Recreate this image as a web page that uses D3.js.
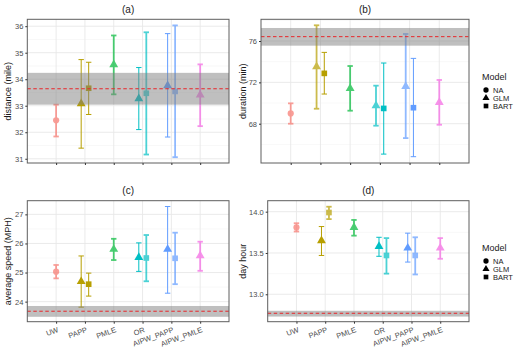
<!DOCTYPE html>
<html>
<head>
<meta charset="utf-8">
<script src="https://cdn.jsdelivr.net/npm/d3@7"></script>
<style>
  body { margin: 0; background: #fff; }
  text { font-family: "Liberation Sans", Arial, sans-serif; }
</style>
</head>
<body>
<script>
var width = 528, height = 363;

// categories / models
const categories = ["UW", "PAPP", "PMLE", "OR", "AIPW_PAPP", "AIPW_PMLE"];
const catColors = ["#F8766D", "#B79F00", "#00BA38", "#00BFC4", "#619CFF", "#F564E3"];
const modelLevels = ["NA", "GLM", "BART"];

// one entry per estimate
const itemCat = [0, 1, 1, 2, 3, 3, 4, 4, 5];
const itemModel = ["NA", "GLM", "BART", "GLM", "GLM", "BART", "GLM", "BART", "GLM"];

// (a) distance
const distEst = [32.45, 33.08, 33.66, 34.55, 33.27, 33.47, 33.76, 33.54, 33.41];
const distLow = [31.84, 31.40, 32.67, 33.43, 32.10, 31.16, 31.82, 31.06, 32.23];
const distUpp = [33.04, 34.74, 34.64, 35.65, 34.44, 35.77, 35.72, 36.03, 34.56];
const distFaded = [1, 0, 0, 1, 0, 1, 0, 1, 1];
const distRef = 33.64, distBand = [33.04, 34.24];

// (b) duration
const durEst = [69.0, 73.52, 72.87, 71.42, 69.74, 69.48, 71.61, 69.55, 70.06];
const durLow = [68.0, 69.45, 70.87, 69.26, 67.81, 65.06, 66.61, 64.81, 67.9];
const durUpp = [69.97, 77.52, 74.9, 73.58, 71.68, 73.87, 76.68, 74.32, 72.23];
const durFaded = [1, 1, 0, 1, 1, 0, 1, 0, 1];
const durRef = 76.42, durBand = [75.55, 77.26];

// (c) average speed
const spdEst = [25.03, 24.69, 24.60, 25.80, 25.52, 25.50, 25.80, 25.49, 25.58];
const spdLow = [24.80, 23.81, 24.19, 25.43, 25.04, 24.70, 24.29, 24.60, 25.06];
const spdUpp = [25.26, 25.57, 24.98, 26.16, 26.02, 26.29, 27.27, 26.37, 26.06];
const spdFaded = [1, 0, 0, 1, 0, 1, 0, 1, 1];
const spdRef = 23.67, spdBand = [23.48, 23.85];

// (d) day hour
const hourEst = [13.81, 13.65, 13.99, 13.81, 13.58, 13.47, 13.56, 13.47, 13.56];
const hourLow = [13.76, 13.47, 13.91, 13.71, 13.46, 13.25, 13.39, 13.24, 13.43];
const hourUpp = [13.86, 13.82, 14.06, 13.90, 13.69, 13.68, 13.74, 13.69, 13.68];
const hourFaded = [1, 0, 1, 1, 0, 1, 0, 1, 1];
const hourRef = 12.77, hourBand = [12.73, 12.80];

const panels = [
  { title: "(a)", ylab: "distance (mile)", est: distEst, low: distLow, upp: distUpp, faded: distFaded,
    ref: distRef, band: distBand, ydom: [30.84, 36.26], major: [31, 32, 33, 34, 35, 36], fmt: d3.format("d"),
    box: [27.3, 19.3, 229, 163], showX: false, ytx: 7.5 },
  { title: "(b)", ylab: "duration (min)", est: durEst, low: durLow, upp: durUpp, faded: durFaded,
    ref: durRef, band: durBand, ydom: [64.2, 78.1], major: [68, 72, 76], fmt: d3.format("d"),
    box: [261, 19.3, 469, 163], showX: false, ytx: 242.5 },
  { title: "(c)", ylab: "average speed (MPH)", est: spdEst, low: spdLow, upp: spdUpp, faded: spdFaded,
    ref: spdRef, band: spdBand, ydom: [23.31, 27.47], major: [24, 25, 26, 27], fmt: d3.format("d"),
    box: [27.3, 200.7, 229, 321.7], showX: true, ytx: 7.5 },
  { title: "(d)", ylab: "day hour", est: hourEst, low: hourLow, upp: hourUpp, faded: hourFaded,
    ref: hourRef, band: hourBand, ydom: [12.668, 14.133], major: [13.0, 13.5, 14.0], fmt: d3.format(".1f"),
    box: [267.7, 200.7, 469, 321.7], showX: true, ytx: 242.5 }
];

var svg = d3.select("body").append("svg")
  .attr("width", width).attr("height", height);

const symbolFor = m => m == "NA" ? d3.symbolCircle : m == "GLM" ? d3.symbolTriangle : d3.symbolSquare;
const symbolSize = m => m == "NA" ? 30 : m == "GLM" ? 34 : 32;

// dodge: only when a category holds two estimates
function dodge(i) {
  var n = itemCat.filter(c => c == itemCat[i]).length;
  if (n < 2) return 0;
  return itemModel[i] == "GLM" ? -0.13 : 0.13;
}

panels.forEach(p => {
  var [x0, y0, x1, y1] = p.box;
  var x = d3.scaleLinear().domain([0, 7]).range([x0, x1]);
  var y = d3.scaleLinear().domain(p.ydom).range([y1, y0]);
  var g = svg.append("g");

  // minor grid: midpoints between major ticks, plus outside ones
  var step = p.major[1] - p.major[0];
  var minor = [];
  for (var v = p.major[0] - step / 2; v <= p.ydom[1]; v += step) {
    if (v >= p.ydom[0]) minor.push(v);
  }
  g.selectAll(".minor").data(minor).enter().append("line")
    .attr("x1", x0).attr("x2", x1).attr("y1", d => y(d)).attr("y2", d => y(d))
    .attr("stroke", "#f1f1f1").attr("stroke-width", 0.5);
  g.selectAll(".major").data(p.major).enter().append("line")
    .attr("x1", x0).attr("x2", x1).attr("y1", d => y(d)).attr("y2", d => y(d))
    .attr("stroke", "#e8e8e8").attr("stroke-width", 0.9);
  g.selectAll(".vgrid").data(categories).enter().append("line")
    .attr("x1", (d, i) => x(i + 1)).attr("x2", (d, i) => x(i + 1))
    .attr("y1", y0).attr("y2", y1)
    .attr("stroke", "#e8e8e8").attr("stroke-width", 0.9);

  // error bars and points
  itemCat.forEach((c, i) => {
    var cx = x(c + 1 + dodge(i));
    var col = catColors[c];
    var faded = p.faded[i];
    var grp = g.append("g").attr("opacity", faded ? 0.7 : 1);
    var sw = faded ? 1.8 : 1;
    grp.append("line").attr("x1", cx).attr("x2", cx)
      .attr("y1", y(p.low[i])).attr("y2", y(p.upp[i]))
      .attr("stroke", col).attr("stroke-width", sw);
    [p.low[i], p.upp[i]].forEach(v => {
      grp.append("line").attr("x1", cx - 2.7).attr("x2", cx + 2.7)
        .attr("y1", y(v)).attr("y2", y(v))
        .attr("stroke", col).attr("stroke-width", sw);
    });
    grp.append("path")
      .attr("d", d3.symbol().type(symbolFor(itemModel[i])).size(symbolSize(itemModel[i])))
      .attr("transform", "translate(" + cx + "," + y(p.est[i]) + ")")
      .attr("fill", col);
  });

  // reference band and line drawn on top
  g.append("rect")
    .attr("x", x0).attr("width", x1 - x0)
    .attr("y", y(p.band[1])).attr("height", y(p.band[0]) - y(p.band[1]))
    .attr("fill", "#7f7f7f").attr("opacity", 0.5);
  g.append("line")
    .attr("x1", x0).attr("x2", x1).attr("y1", y(p.ref)).attr("y2", y(p.ref))
    .attr("stroke", "#e8262a").attr("stroke-width", 1).attr("stroke-dasharray", "3.5,2.5");

  // border
  g.append("rect").attr("x", x0).attr("y", y0).attr("width", x1 - x0).attr("height", y1 - y0)
    .attr("fill", "none").attr("stroke", "#5e5e5e").attr("stroke-width", 1);

  // y axis
  var yAxis = g.append("g").attr("transform", "translate(" + x0 + ",0)")
    .call(d3.axisLeft(y).tickValues(p.major).tickFormat(p.fmt).tickSize(2).tickPadding(2));
  yAxis.select(".domain").remove();
  yAxis.selectAll("line").attr("stroke", "#333");
  yAxis.selectAll("text").attr("fill", "#4d4d4d").style("font-size", "7.5px")
    .style("font-family", "Liberation Sans, Arial, sans-serif");

  // x axis ticks
  var xAxis = g.append("g").attr("transform", "translate(0," + y1 + ")")
    .call(d3.axisBottom(x).tickValues(d3.range(1, 7)).tickSize(2).tickFormat(""));
  xAxis.select(".domain").remove();
  xAxis.selectAll("line").attr("stroke", "#333");
  if (p.showX) {
    categories.forEach((c, i) => {
      g.append("text")
        .attr("transform", "translate(" + (x(i + 1) + 1) + "," + (y1 + 5) + ") rotate(-20)")
        .attr("text-anchor", "end").attr("dy", "0.72em")
        .attr("fill", "#4d4d4d").style("font-size", "7.5px")
        .text(c);
    });
  }

  // titles
  g.append("text").attr("x", (x0 + x1) / 2).attr("y", y0 - 6.5)
    .attr("text-anchor", "middle").style("font-size", "10px").attr("fill", "#1a1a1a")
    .text(p.title);
  g.append("text")
    .attr("transform", "translate(" + p.ytx + "," + (y0 + y1) / 2 + ") rotate(-90)")
    .attr("text-anchor", "middle").attr("dy", "0.35em")
    .style("font-size", "9px").attr("fill", "#1a1a1a")
    .text(p.ylab);
});

// legends, one beside each row
[77, 248].forEach(ly => {
  var lg = svg.append("g").attr("transform", "translate(482," + ly + ")");
  lg.append("text").attr("x", 0).attr("y", 0).attr("dy", "0.35em")
    .style("font-size", "9px").attr("fill", "#1a1a1a").text("Model");
  modelLevels.forEach((m, i) => {
    lg.append("path")
      .attr("d", d3.symbol().type(symbolFor(m)).size(22))
      .attr("transform", "translate(4," + (13 + i * 8) + ")")
      .attr("fill", "#000");
    lg.append("text").attr("x", 11).attr("y", 13 + i * 8).attr("dy", "0.35em")
      .style("font-size", "7.5px").attr("fill", "#1a1a1a").text(m);
  });
});
</script>
</body>
</html>
